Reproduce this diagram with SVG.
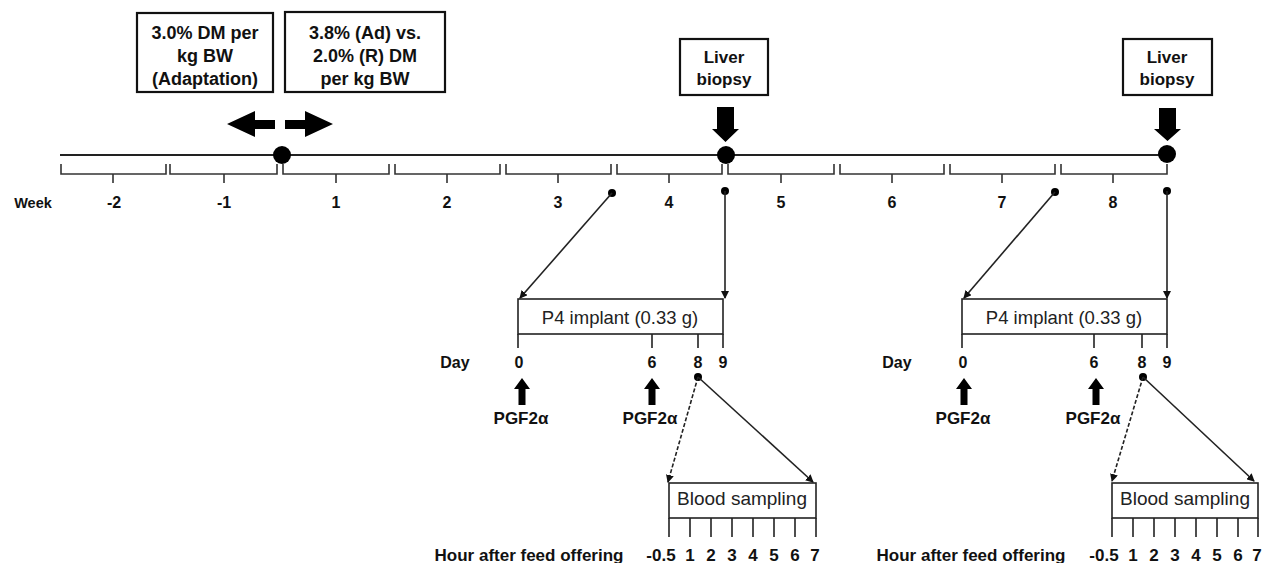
<svg xmlns="http://www.w3.org/2000/svg" width="1264" height="563" viewBox="0 0 1264 563">
<style>
.bx{fill:#fff;stroke:#111;stroke-width:2.2}
.tb{fill:#fff;stroke:#222;stroke-width:1.6}
.bt{font-family:"Liberation Sans",Arial,sans-serif;font-weight:bold;fill:#111;text-anchor:middle}
.nt{font-family:"Liberation Sans",Arial,sans-serif;fill:#222;text-anchor:middle}
.ln{stroke:#222;stroke-width:1.6;fill:none}
.br{stroke:#333;stroke-width:1.6;fill:none}
.dot{fill:#000}
.blk{fill:#000}
</style>
<defs>
<marker id="ah" markerWidth="8" markerHeight="8" refX="7" refY="4" orient="auto" markerUnits="userSpaceOnUse">
<path d="M0,0 L8,4 L0,8 Z" fill="#111"/>
</marker>
</defs>

<g id="box-adaptation">
<rect class="bx" x="137" y="13" width="136" height="79"/>
<text class="bt" font-size="18" x="205" y="38.5">3.0% DM per</text>
<text class="bt" font-size="18" x="205" y="61.5">kg BW</text>
<text class="bt" font-size="18" x="205" y="84.5">(Adaptation)</text>
</g>
<g id="box-treatment">
<rect class="bx" x="285" y="12" width="160" height="80"/>
<text class="bt" font-size="18" x="365" y="38.5">3.8% (Ad) vs.</text>
<text class="bt" font-size="18" x="365" y="61.5">2.0% (R) DM</text>
<text class="bt" font-size="18" x="365" y="84.5">per kg BW</text>
</g>
<g id="arrows-lr">
<path class="blk" d="M227,124 L255,111 V120 H275 V129 H255 V137 Z"/>
<path class="blk" d="M333,124 L305,111 V120 H285 V129 H305 V137 Z"/>
</g>
<g id="liver-biopsy-1">
<rect class="bx" x="680" y="39" width="88" height="56"/>
<text class="bt" font-size="17" x="724" y="63">Liver</text>
<text class="bt" font-size="17" x="724" y="85">biopsy</text>
<path class="blk" d="M717,107 H734 V129 H739 L725.5,142 L712,129 H717 Z"/>
</g>
<g id="liver-biopsy-2">
<rect class="bx" x="1123" y="39" width="89" height="56"/>
<text class="bt" font-size="17" x="1167" y="63">Liver</text>
<text class="bt" font-size="17" x="1167" y="85">biopsy</text>
<path class="blk" d="M1159,108 H1176 V129 H1181 L1167.5,141 L1154,129 H1159 Z"/>
</g>

<g id="timeline">
<line x1="60" y1="155" x2="1167" y2="155" stroke="#222" stroke-width="2"/>
<circle class="dot" cx="282" cy="155" r="9"/>
<circle class="dot" cx="726" cy="155" r="9"/>
<circle class="dot" cx="1167" cy="154" r="9"/>
<g class="br">
<path d="M61,164 V174 H166 V164 M113,174 V183"/>
<path d="M170,164 V174 H277 V164 M224,174 V183"/>
<path d="M283,164 V174 H389 V164 M336,174 V183"/>
<path d="M395,164 V174 H500 V164 M447,174 V183"/>
<path d="M506,164 V174 H611 V164 M558,174 V183"/>
<path d="M617,164 V174 H722 V164 M669,174 V183"/>
<path d="M728,164 V174 H834 V164 M781,174 V183"/>
<path d="M840,164 V174 H944 V164 M892,174 V183"/>
<path d="M950,164 V174 H1055 V164 M1002,174 V183"/>
<path d="M1061,164 V174 H1167 V164 M1113,174 V183"/>
</g>
<text class="bt" font-size="14.5" x="33" y="208">Week</text>
<text class="bt" font-size="16" x="114" y="208">-2</text>
<text class="bt" font-size="16" x="224" y="208">-1</text>
<text class="bt" font-size="16" x="336" y="208">1</text>
<text class="bt" font-size="16" x="447" y="208">2</text>
<text class="bt" font-size="16" x="558" y="208">3</text>
<text class="bt" font-size="16" x="669" y="208">4</text>
<text class="bt" font-size="16" x="781" y="208">5</text>
<text class="bt" font-size="16" x="892" y="208">6</text>
<text class="bt" font-size="16" x="1002" y="208">7</text>
<text class="bt" font-size="16" x="1113" y="208">8</text>
</g>

<g id="p4-implant-1">
<rect class="tb" x="518" y="299" width="205" height="35"/>
<text class="nt" font-size="18.5" x="620" y="323.5">P4 implant (0.33 g)</text>
<path class="ln" d="M518,334 V348 M652,334 V348 M698,334 V348 M723,334 V348"/>
<text class="bt" font-size="16" x="455" y="368">Day</text>
<text class="bt" font-size="16" x="519" y="368">0</text>
<text class="bt" font-size="16" x="652" y="368">6</text>
<text class="bt" font-size="16" x="698" y="368">8</text>
<text class="bt" font-size="16" x="723" y="368">9</text>
<path class="blk" d="M522,378 L530,389 H525.5 V405 H518.5 V389 H514 Z"/>
<path class="blk" d="M652,378 L660,389 H655.5 V405 H648.5 V389 H644 Z"/>
<text class="bt" font-size="17" x="521" y="424">PGF2α</text>
<text class="bt" font-size="17" x="650" y="424">PGF2α</text>
<circle class="dot" cx="698" cy="377" r="4"/>
</g>
<g id="p4-implant-2">
<rect class="tb" x="962" y="299" width="205" height="35"/>
<text class="nt" font-size="18.5" x="1064" y="323.5">P4 implant (0.33 g)</text>
<path class="ln" d="M962,334 V348 M1094,334 V348 M1142,334 V348 M1167,334 V348"/>
<text class="bt" font-size="16" x="897" y="368">Day</text>
<text class="bt" font-size="16" x="963" y="368">0</text>
<text class="bt" font-size="16" x="1094" y="368">6</text>
<text class="bt" font-size="16" x="1142" y="368">8</text>
<text class="bt" font-size="16" x="1167" y="368">9</text>
<path class="blk" d="M964,378 L972,389 H967.5 V405 H960.5 V389 H956 Z"/>
<path class="blk" d="M1096,378 L1104,389 H1099.5 V405 H1092.5 V389 H1088 Z"/>
<text class="bt" font-size="17" x="963" y="424">PGF2α</text>
<text class="bt" font-size="17" x="1093" y="424">PGF2α</text>
<circle class="dot" cx="1143" cy="377" r="4"/>
</g>

<g id="blood-sampling-1">
<rect class="tb" x="669" y="483" width="147" height="35"/>
<text class="nt" font-size="19" x="742" y="505">Blood sampling</text>
<path class="ln" d="M669,518 V537 M690,518 V537 M711,518 V537 M732,518 V537 M753,518 V537 M774,518 V537 M795,518 V537 M816,518 V537"/>
<text class="bt" font-size="17" x="529" y="561">Hour after feed offering</text>
<text class="bt" font-size="17" x="661" y="561">-0.5</text>
<text class="bt" font-size="17" x="690" y="561">1</text>
<text class="bt" font-size="17" x="711" y="561">2</text>
<text class="bt" font-size="17" x="732" y="561">3</text>
<text class="bt" font-size="17" x="753" y="561">4</text>
<text class="bt" font-size="17" x="774" y="561">5</text>
<text class="bt" font-size="17" x="795" y="561">6</text>
<text class="bt" font-size="17" x="815" y="561">7</text>
</g>
<g id="blood-sampling-2">
<rect class="tb" x="1112" y="483" width="146" height="35"/>
<text class="nt" font-size="19" x="1185" y="505">Blood sampling</text>
<path class="ln" d="M1112,518 V537 M1133,518 V537 M1154,518 V537 M1175,518 V537 M1196,518 V537 M1217,518 V537 M1238,518 V537 M1258,518 V537"/>
<text class="bt" font-size="17" x="971" y="561">Hour after feed offering</text>
<text class="bt" font-size="17" x="1104" y="561">-0.5</text>
<text class="bt" font-size="17" x="1133" y="561">1</text>
<text class="bt" font-size="17" x="1154" y="561">2</text>
<text class="bt" font-size="17" x="1175" y="561">3</text>
<text class="bt" font-size="17" x="1196" y="561">4</text>
<text class="bt" font-size="17" x="1217" y="561">5</text>
<text class="bt" font-size="17" x="1238" y="561">6</text>
<text class="bt" font-size="17" x="1257" y="561">7</text>
</g>

<g id="connectors">
<circle class="dot" cx="612" cy="193" r="4"/>
<circle class="dot" cx="725" cy="191" r="4"/>
<circle class="dot" cx="1055" cy="192" r="4"/>
<circle class="dot" cx="1167" cy="191" r="4"/>
<line class="ln" x1="612" y1="193" x2="520" y2="298" marker-end="url(#ah)"/>
<line class="ln" x1="725" y1="191" x2="725" y2="298" marker-end="url(#ah)"/>
<line class="ln" x1="1055" y1="192" x2="964" y2="298" marker-end="url(#ah)"/>
<line class="ln" x1="1167" y1="191" x2="1167" y2="298" marker-end="url(#ah)"/>
<line class="ln" x1="698" y1="377" x2="668" y2="482" stroke-dasharray="4 2" marker-end="url(#ah)"/>
<line class="ln" x1="698" y1="377" x2="813" y2="482" marker-end="url(#ah)"/>
<line class="ln" x1="1143" y1="377" x2="1112" y2="481" stroke-dasharray="4 2" marker-end="url(#ah)"/>
<line class="ln" x1="1143" y1="377" x2="1254" y2="481" marker-end="url(#ah)"/>
</g>
</svg>
